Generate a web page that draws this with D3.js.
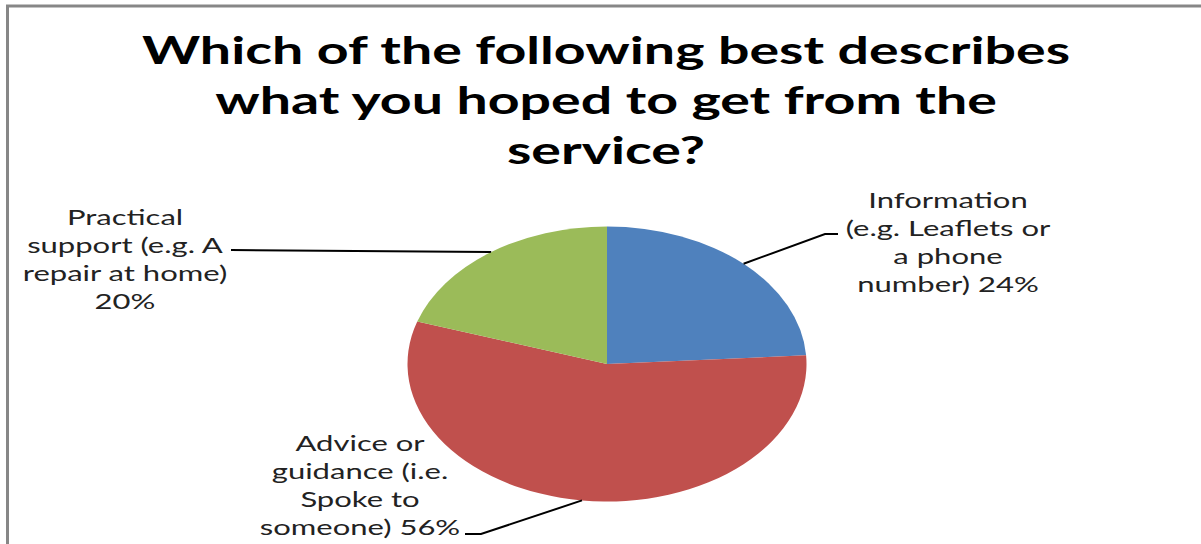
<!DOCTYPE html>
<html>
<head>
<meta charset="utf-8">
<script src="https://cdn.jsdelivr.net/npm/d3@7"></script>
<style>
  body { margin: 0; background: #fff; }
  svg { display: block; }
</style>
</head>
<body>
<div id="piechart"></div>
<script>
// data
var categories = ["Information", "Advice or guidance", "Practical support"];
var percents = [24, 56, 20];
var colours = ["#4F81BD", "#C0504D", "#9BBB59"];
var labelLines = [
    ["Information", "(e.g. Leaflets or", "a phone", "number) 24%"],
    ["Advice or", "guidance (i.e.", "Spoke to", "someone) 56%"],
    ["Practical", "support (e.g. A", "repair at home)", "20%"]
];
var titleLines = ["Which of the following best describes", "what you hoped to get from the", "service?"];

var width = 1201, height = 544;
var cx = 607, cy = 364, rx = 199.5, ry = 137.5;
var sxTitle = 1.46, sxLabel = 1.41; // the whole picture is stretched sideways

var svg = d3.select("#piechart")
    .append("svg")
    .attr("width", width)
    .attr("height", height);

// chart border (only top and left show)
svg.append("rect")
    .attr("x", 7.5).attr("y", 6)
    .attr("width", 1400).attr("height", 800)
    .attr("fill", "none")
    .attr("stroke", "#878787")
    .attr("stroke-width", 3);

// title
svg.selectAll(".title")
    .data(titleLines)
    .enter().append("text")
    .attr("class", "title")
    .attr("transform", function(d, i) { return "translate(606," + (64 + i * 50) + ") scale(" + sxTitle + ",1)"; })
    .attr("text-anchor", "middle")
    .attr("font-family", "Lato")
    .attr("font-weight", "bold")
    .attr("font-size", "38px")
    .attr("fill", "#000")
    .text(function(d) { return d; });

// pie
var pie = d3.pie().sort(null).value(function(d) { return d; });
var arcs = pie(percents);
var arc = d3.arc().innerRadius(0).outerRadius(ry);

var g = svg.append("g")
    .attr("transform", "translate(" + cx + "," + cy + ") scale(" + (rx / ry) + ",1)");

g.selectAll("path")
    .data(arcs)
    .enter().append("path")
    .attr("d", arc)
    .attr("fill", function(d, i) { return colours[i]; });

// edge point at the middle of each slice, in page coords
function edgePoint(d) {
    var a = (d.startAngle + d.endAngle) / 2;
    return [cx + Math.sin(a) * rx, cy - Math.cos(a) * ry];
}

// label boxes: centre x, first baseline, elbow and end of leader line
var labelPos = [
    { x: 948, y: 208, elbow: [825, 234], end: [838, 234] },
    { x: 360, y: 451, elbow: [481, 534], end: [465, 534] },
    { x: 125, y: 225, elbow: [490, 252], end: [231, 250] }
];

var line = d3.line();
svg.selectAll(".leader")
    .data(arcs)
    .enter().append("path")
    .attr("class", "leader")
    .attr("d", function(d, i) {
        var p = labelPos[i];
        return line([edgePoint(d), p.elbow, p.end]);
    })
    .attr("fill", "none")
    .attr("stroke", "#000")
    .attr("stroke-width", 2);

labelLines.forEach(function(lines, i) {
    var p = labelPos[i];
    svg.selectAll(".lab" + i)
        .data(lines)
        .enter().append("text")
        .attr("class", "lab" + i)
        .attr("transform", function(d, j) { return "translate(" + p.x + "," + (p.y + j * 28) + ") scale(" + sxLabel + ",1)"; })
        .attr("text-anchor", "middle")
        .attr("font-family", "Lato")
        .attr("font-size", "22px")
        .attr("fill", "#222")
        .text(function(d) { return d; });
});
</script>
</body>
</html>
